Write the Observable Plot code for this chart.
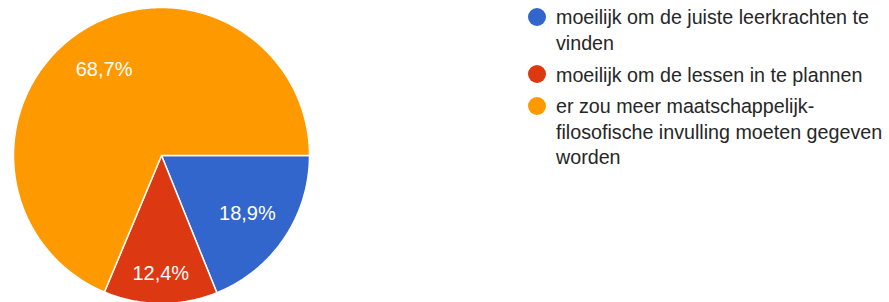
<!DOCTYPE html>
<html>
<head>
<meta charset="utf-8">
<script src="https://cdn.jsdelivr.net/npm/d3@7"></script>
<script src="https://cdn.jsdelivr.net/npm/@observablehq/plot@0.6"></script>
<style>
  html, body { margin: 0; padding: 0; background: #fff; }
  #wrap { position: relative; width: 889px; height: 302px; overflow: hidden; }
  #chart { position: absolute; left: 0; top: 0; }
  #legend { position: absolute; left: 528px; top: 5.4px; width: 361px; font-family: "Liberation Sans", Arial, sans-serif; font-size: 19.7px; color: #262626; }
  .item { display: flex; align-items: flex-start; margin-bottom: 6px; }
  .sw { flex: 0 0 18px; width: 18px; height: 18px; border-radius: 50%; margin-top: 2.6px; margin-right: 10px; }
  .lab { line-height: 25.6px; width: 333px; }
</style>
</head>
<body>
<div id="wrap">
  <div id="chart"></div>
  <div id="legend"></div>
</div>
<script>
const categories = [
  "moeilijk om de juiste leerkrachten te vinden",
  "moeilijk om de lessen in te plannen",
  "er zou meer maatschappelijk-filosofische invulling moeten gegeven worden"
];
const percentages = [18.9, 12.4, 68.7];
const labels = ["18,9%", "12,4%", "68,7%"];
const colors = ["#3366cc", "#dc3912", "#ff9900"];

// build slices (start at 3 o'clock, clockwise)
let acc = 0;
const slices = categories.map((c, i) => {
  const a0 = acc / 100 * 2 * Math.PI;
  acc += percentages[i];
  const a1 = acc / 100 * 2 * Math.PI;
  const frac = percentages[i] / 100;
  const mid = (a0 + a1) / 2;
  const r = frac < 0.15 ? 0.8 : 0.7;
  return { key: c, label: labels[i], a0, a1, lx: r * Math.cos(-mid), ly: r * Math.sin(-mid) };
});
const points = [];
for (const s of slices) {
  points.push({ key: s.key, x: 0, y: 0 });
  const n = Math.max(2, Math.ceil((s.a1 - s.a0) / (Math.PI / 360)));
  for (let k = 0; k <= n; k++) {
    const t = s.a0 + (s.a1 - s.a0) * k / n;
    points.push({ key: s.key, x: Math.cos(-t), y: Math.sin(-t) });
  }
  points.push({ key: s.key, x: 0, y: 0 });
}

const plot = Plot.plot({
  width: 330,
  height: 302,
  margin: 0,
  style: { fontFamily: "'Liberation Sans', Arial, sans-serif", background: "white" },
  x: { domain: [-1, 1], range: [13, 309], axis: null },
  y: { domain: [-1, 1], range: [303, 7], axis: null },
  color: { domain: categories, range: colors },
  marks: [
    Plot.line(points, { x: "x", y: "y", z: "key", fill: "key", stroke: "white", strokeWidth: 1.5, strokeLinejoin: "round", curve: "linear" }),
    Plot.text(slices, { x: "lx", y: "ly", text: "label", fill: "white", fontSize: 20, fontFamily: "'Liberation Sans', Arial, sans-serif" })
  ]
});
document.getElementById("chart").appendChild(plot);

const legend = document.getElementById("legend");
categories.forEach((c, i) => {
  const item = document.createElement("div");
  item.className = "item";
  const sw = document.createElement("div");
  sw.className = "sw";
  sw.style.background = colors[i];
  const lab = document.createElement("div");
  lab.className = "lab";
  lab.textContent = c;
  item.appendChild(sw);
  item.appendChild(lab);
  legend.appendChild(item);
});
</script>
</body>
</html>
